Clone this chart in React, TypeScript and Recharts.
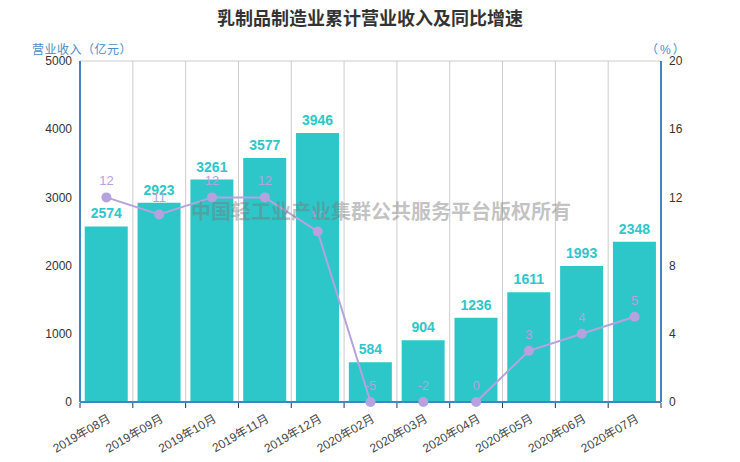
import React from "react"
import {
  Bar,
  CartesianGrid,
  ComposedChart,
  LabelList,
  Line,
  XAxis,
  YAxis,
} from "recharts"

const months = [
  "2019年08月",
  "2019年09月",
  "2019年10月",
  "2019年11月",
  "2019年12月",
  "2020年02月",
  "2020年03月",
  "2020年04月",
  "2020年05月",
  "2020年06月",
  "2020年07月",
]
const revenue = [2574, 2923, 3261, 3577, 3946, 584, 904, 1236, 1611, 1993, 2348]
const growth = [12, 11, 12, 12, 10, -5, -2, 0, 3, 4, 5]
const leftTicks = [0, 1000, 2000, 3000, 4000, 5000]
const rightTicks = [0, 4, 8, 12, 16, 20]

const data = months.map((month, i) => ({ month, revenue: revenue[i], growth: growth[i] }))

const FONT = "'Liberation Sans', 'Noto Sans CJK SC', sans-serif"
const AXIS_BLUE = "#3f86c4"
const TEAL = "#2ec7c9"
const LAVENDER = "#b6a2de"

function MonthTick(props: any) {
  const { x, y, payload, index, width } = props
  const bw = width / months.length
  return (
    <g>
      <line x1={x - bw / 2} y1={y - 7} x2={x - bw / 2} y2={y - 2} stroke="#333" />
      {index === months.length - 1 && (
        <line x1={x + bw / 2} y1={y - 7} x2={x + bw / 2} y2={y - 2} stroke="#333" />
      )}
      <text
        transform={`translate(${x + 5},${y + 11}) rotate(-30)`}
        textAnchor="end"
        fontSize={12}
        fill="#444"
        fontFamily={FONT}
      >
        {payload.value}
      </text>
    </g>
  )
}

export default function App() {
  return (
    <div style={{ position: "absolute", left: 0, top: 0, width: 740, height: 462, background: "#fff", fontFamily: FONT }}>
      <div style={{ position: "absolute", top: 4, width: 740, textAlign: "center", fontSize: 18, fontWeight: "bold", color: "#333" }}>
        乳制品制造业累计营业收入及同比增速
      </div>
      <div style={{ position: "absolute", left: 32, top: 40, fontSize: 12, color: "#4a8cc7", letterSpacing: 0.5 }}>营业收入（亿元）</div>
      <div style={{ position: "absolute", left: 646, top: 40, fontSize: 12, color: "#4a8cc7", letterSpacing: 2 }}>（%）</div>
      <ComposedChart
        width={740}
        height={462}
        data={data}
        margin={{ top: 61, right: 0, left: 0, bottom: 0 }}
        barCategoryGap="9%"
      >
        <CartesianGrid
          stroke="#ccc"
          verticalCoordinatesGenerator={({ offset }: any) =>
            months.map((_, i) => offset.left + (i * offset.width) / months.length).concat(offset.left + offset.width)
          }
        />
        <XAxis
          dataKey="month"
          height={60}
          interval={0}
          tickLine={false}
          axisLine={{ stroke: AXIS_BLUE, strokeWidth: 2 }}
          tick={<MonthTick />}
        />
        <YAxis
          yAxisId="left"
          width={80}
          domain={[0, 5000]}
          ticks={leftTicks}
          tickLine={false}
          axisLine={{ stroke: AXIS_BLUE, strokeWidth: 2 }}
          tick={{ fontSize: 12, fill: "#333", fontFamily: FONT }}
        />
        <YAxis
          yAxisId="right"
          orientation="right"
          width={79}
          domain={[0, 20]}
          ticks={rightTicks}
          tickLine={false}
          axisLine={{ stroke: AXIS_BLUE, strokeWidth: 2 }}
          tick={{ fontSize: 12, fill: "#333", fontFamily: FONT }}
        />
        <Bar yAxisId="left" dataKey="revenue" fill={TEAL} isAnimationActive={false}>
          <LabelList
            dataKey="revenue"
            position="top"
            offset={8}
            fill={TEAL}
            fontSize={14}
            fontWeight="bold"
            fontFamily={FONT}
          />
        </Bar>
        <Line
          yAxisId="right"
          dataKey={(d: any) => Math.max(d.growth, 0)}
          stroke={LAVENDER}
          strokeWidth={2}
          dot={{ r: 4, fill: LAVENDER, stroke: LAVENDER }}
          isAnimationActive={false}
        >
          <LabelList dataKey="growth" position="top" offset={12} fill={LAVENDER} fontSize={13} fontFamily={FONT} />
        </Line>
      </ComposedChart>
      <div
        style={{
          position: "absolute",
          left: 191,
          top: 196,
          fontSize: 20,
          fontWeight: "bold",
          color: "rgba(120,120,120,0.45)",
          pointerEvents: "none",
          whiteSpace: "nowrap",
        }}
      >
        中国轻工业产业集群公共服务平台版权所有
      </div>
    </div>
  )
}
